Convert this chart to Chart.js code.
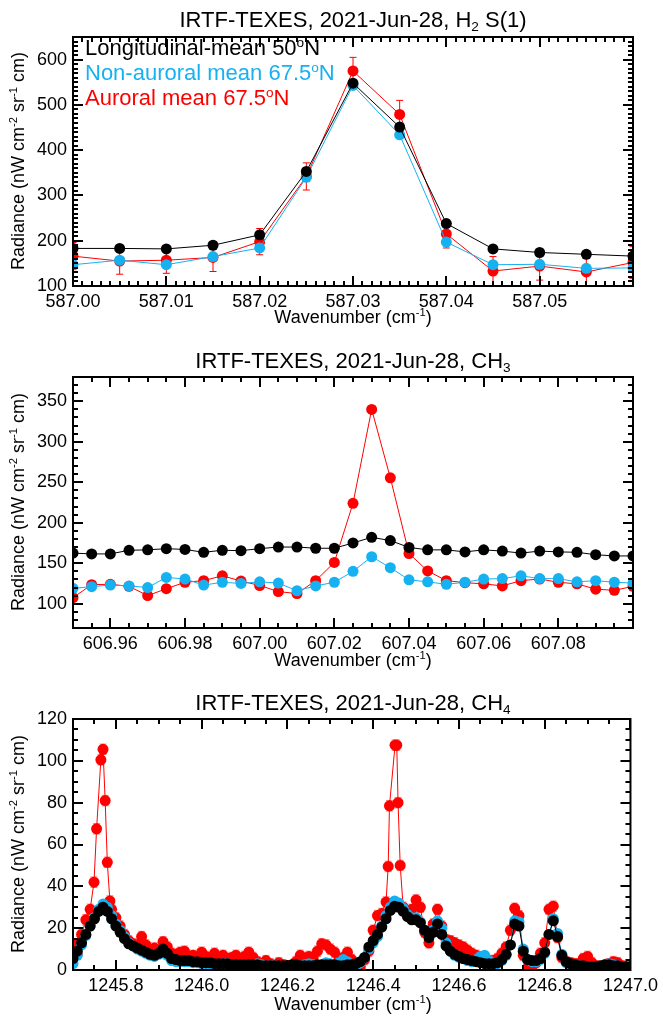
<!DOCTYPE html>
<html>
<head>
<meta charset="utf-8">
<title>IRTF-TEXES 2021-Jun-28 spectra</title>
<script src="https://cdn.jsdelivr.net/npm/chart.js@4.4.1/dist/chart.umd.min.js"></script>
<style>
  html, body { margin: 0; padding: 0; background: #fff; }
  body { width: 663px; height: 1019px; position: relative; overflow: hidden;
         font-family: "Liberation Sans", Arial, Helvetica, sans-serif; color: #000; }
  canvas { position: absolute; left: 0; }
  .title  { position: absolute; left: 353px; transform: translateX(-50%); font-size: 22px; line-height: 22px; white-space: nowrap; }
  .xlabel { position: absolute; left: 353px; transform: translateX(-50%); font-size: 18px; line-height: 18px; white-space: nowrap; }
  .ylabel { position: absolute; left: 18px; transform: translate(-50%, -50%) rotate(-90deg); font-size: 18px; line-height: 18px; white-space: nowrap; }
  .legend { position: absolute; left: 85px; font-size: 22px; line-height: 22px; white-space: nowrap; }
  sub { font-size: 0.62em; vertical-align: -0.3em; line-height: 0; }
  sup { font-size: 0.62em; vertical-align: 0.6em; line-height: 0; }
</style>
</head>
<body>

<canvas id="h2" width="663" height="330" style="top:0px"></canvas>
<canvas id="ch3" width="663" height="330" style="top:340px"></canvas>
<canvas id="ch4" width="663" height="337" style="top:682px"></canvas>

<div class="title" style="top:9px">IRTF-TEXES, 2021-Jun-28, H<sub>2</sub> S(1)</div>
<div class="title" style="top:350px">IRTF-TEXES, 2021-Jun-28, CH<sub>3</sub></div>
<div class="title" style="top:692px">IRTF-TEXES, 2021-Jun-28, CH<sub>4</sub></div>

<div class="legend" style="top:37px; color:#000">Longitudinal-mean 50<sup>o</sup>N</div>
<div class="legend" style="top:62px; color:#16b1f0">Non-auroral mean 67.5<sup>o</sup>N</div>
<div class="legend" style="top:87px; color:#ff0000">Auroral mean 67.5<sup>o</sup>N</div>

<div class="xlabel" style="top:308px">Wavenumber (cm<sup>-1</sup>)</div>
<div class="xlabel" style="top:651px">Wavenumber (cm<sup>-1</sup>)</div>
<div class="xlabel" style="top:995px">Wavenumber (cm<sup>-1</sup>)</div>

<div class="ylabel" style="top:161px">Radiance (nW cm<sup>-2</sup> sr<sup>-1</sup> cm)</div>
<div class="ylabel" style="top:502px">Radiance (nW cm<sup>-2</sup> sr<sup>-1</sup> cm)</div>
<div class="ylabel" style="top:844px">Radiance (nW cm<sup>-2</sup> sr<sup>-1</sup> cm)</div>

<script>
// ── H2 S(1) line ─────────────────────────────────────────────────────────────
const H2_WAVE = [587.000, 587.005, 587.010, 587.015, 587.020, 587.025, 587.030,
                 587.035, 587.040, 587.045, 587.050, 587.055, 587.060];
const H2_LON     = [183, 183, 182, 190, 213, 353, 548, 451, 238, 182, 174, 170, 166];
const H2_NONAUR  = [147, 157, 147, 165, 184, 340, 543, 434, 197, 147, 148, 139, 140];
const H2_AUR     = [166, 155, 157, 163, 198, 342, 575, 479, 215, 133, 144, 131, 152];
const H2_AUR_ERR = [30, 29, 29, 31, 29, 30, 30, 31, 31, 32, 31, 31, 35];
const H2_X_TICKS = [587.00, 587.01, 587.02, 587.03, 587.04, 587.05];
const H2_Y_TICKS = [100, 200, 300, 400, 500, 600];

// ── CH3 ──────────────────────────────────────────────────────────────────────
const CH3_WAVE = [606.950, 606.955, 606.960, 606.965, 606.970, 606.975, 606.980, 606.985,
                  606.990, 606.995, 607.000, 607.005, 607.010, 607.015, 607.020, 607.025,
                  607.030, 607.035, 607.040, 607.045, 607.050, 607.055, 607.060, 607.065,
                  607.070, 607.075, 607.080, 607.085, 607.090, 607.095, 607.100];
const CH3_LON = [162.5, 161.5, 161.5, 166, 166.5, 168, 167, 163.5, 166, 165.5, 168,
                 170, 170, 168.5, 168.5, 175, 182, 178, 169.5, 166.5, 166.5, 164,
                 166.5, 165, 162.5, 165, 164, 163.5, 160.5, 159, 159];
const CH3_NONAUR = [119, 121, 123, 122, 120, 132.5, 130.5, 123, 126.5, 125, 127,
                    125.5, 116, 122, 126.5, 140, 158, 144.5, 129.5, 127, 124, 126.5,
                    130.5, 131, 134.5, 131, 131, 127, 128.5, 126.5, 125.5];
const CH3_AUR = [107.5, 123.5, 124, 121.5, 110, 118.5, 126.5, 128.5, 134.5, 128, 122.5,
                 115, 112.5, 128.5, 151, 224, 340, 255.5, 162, 140.5, 128.5, 126,
                 124.5, 122, 128.5, 130.5, 126.5, 124.5, 118, 116.5, 121.5];
const CH3_AUR_ERR = 4.5;
const CH3_X_TICKS = [606.96, 606.98, 607.00, 607.02, 607.04, 607.06, 607.08];
const CH3_Y_TICKS = [100, 150, 200, 250, 300, 350];

// ── CH4 (sampled every 0.01 cm-1 from 1245.70) ───────────────────────────────
const CH4_START = 1245.70;
const CH4_STEP = 0.01;
const CH4_LON = [
  5.5, 9, 13, 17, 21, 24.5, 28, 30, 28, 24.5,
  21, 18, 15, 12.5, 11.5, 10.5, 9.5, 8.5, 7.5, 7,
  8, 10, 8, 5.5, 5, 4.5, 4.5, 4.5, 4, 4,
  3.5, 3.5, 3.5, 3, 3, 3, 3, 2.5, 2.5, 2.5,
  2.5, 2.5, 2.5, 2.5, 2, 2, 2, 2, 2, 2,
  2, 2.5, 2.5, 2, 2, 2, 2, 2.5, 2.5, 2.5,
  2.5, 2.5, 2, 2, 2.5, 2.5, 3, 4, 6, 11,
  14, 17, 20.5, 24.5, 28.5, 30.5, 30, 28, 25.5, 24,
  24, 22.5, 19, 15.5, 18, 22, 17, 11.5, 9, 7.5,
  6.5, 5.5, 5, 4.5, 4, 3.5, 3, 3, 3, 3.5,
  5, 7.5, 12, 22, 21, 9, 5, 4.5, 4.5, 5.5,
  8.5, 17, 23.5, 16, 7, 4, 3, 2.5, 2, 2,
  1.5, 1.5, 1.5, 2, 2.5, 2.5, 2, 2, 1.5, 1.5,
  1.5];
const CH4_NONAUR = [
  3, 7, 12, 16.5, 21, 25, 29, 31.5, 30, 26,
  22, 19, 16, 13, 11.5, 10, 9, 8, 7, 6.5,
  7.5, 9, 7, 4.5, 4, 4, 4, 4, 3.5, 3.5,
  3, 3, 2.5, 2.5, 2.5, 3, 3, 2, 2, 2.5,
  2.5, 2, 2, 3, 2.5, 1.5, 2, 2, 1.5, 1.5,
  1.5, 2, 2, 1.5, 2.5, 3, 2.5, 2, 2.5, 3.5,
  3, 2, 3.5, 5, 4, 2, 2, 3.5, 6, 10,
  13, 16, 21, 26, 30, 33, 32, 29.5, 26.5, 25,
  25, 23, 19, 16.5, 19, 23.5, 20, 13, 9, 7,
  6, 5.5, 4.5, 4, 5, 6.5, 7, 4.5, 3, 3,
  4.5, 7, 12, 23.5, 23, 10, 5, 4, 4, 5,
  8, 17, 24.5, 17.5, 7.5, 3.5, 2.5, 2, 2, 1.5,
  1.5, 1.5, 1, 1.5, 2.5, 3, 2.5, 2, 1.5, 1,
  1];
// null where the finer auroral samples below take over
const CH4_AUR = [
  12.5, 7.5, 17, 24, 29, null, null, null, null, 29,
  25, 21, 17, 14, 12.5, 12, 16, 12, 9.5, 10.5,
  9, 13.5, 11, 8, 7.5, 8.5, 9, 6.5, 7, 6,
  8.5, 6.5, 5.5, 8, 6, 7, 5, 6, 7, 5,
  6.5, 8.5, 6, 4, 3, 4.5, 3, 2, 3.5, 2.5,
  2, 1.5, 4, 7, 5, 6.5, 6, 9, 12.5, 12,
  10, 8.5, 5, 6, 8.5, 5, 3, 1.5, 5, 9,
  19, 26, 27, 32.5, null, null, null, 30, 28, 29,
  33.5, 30, 18, 13, 22, 29, 21, 14.5, 14, 13,
  12, 11, 9.5, 8, 7, 6, 5, 4.5, 4.5, 5.5,
  8, 11, 19, 29.5, 26, 7, 1, 1.5, 3.5, 8,
  13, 29, 30.5, 15.5, 6, 4, 3.5, 3, 3, 5.5,
  6.5, 3.5, 2, 1.5, 2, 3, 4, 3.5, 2, 1.5,
  1];
const CH4_AUR_FINE_X = [1245.749, 1245.755, 1245.765, 1245.770, 1245.775, 1245.780, 1245.786,
                        1246.435, 1246.438, 1246.451, 1246.455, 1246.458, 1246.463];
const CH4_AUR_FINE_Y = [42, 67.5, 100.5, 105.5, 81, 51.5, 33,
                        49.5, 78.5, 107.5, 107.5, 80, 50];
const CH4_AUR_ERR = 2.5;
const CH4_X_TICKS = [1245.8, 1246.0, 1246.2, 1246.4, 1246.6, 1246.8, 1247.0];
const CH4_Y_TICKS = [0, 20, 40, 60, 80, 100, 120];

// ── Styling ──────────────────────────────────────────────────────────────────
const INK = '#000000';
const SKY = '#16b1f0';
const RED = '#ff0000';
const FONT = '"Liberation Sans", Arial, Helvetica, sans-serif';
const DOT = 5.5;

const CH4_WAVE = CH4_LON.map((_, i) => +(CH4_START + i * CH4_STEP).toFixed(3));

function pairs(xs, ys) {
  return xs.map((x, i) => ({ x, y: ys[i] })).filter(p => p.y != null);
}

function stepValues(min, max, step) {
  const n = Math.round((max - min) / step);
  return Array.from({ length: n + 1 }, (_, i) => min + i * step);
}

function series(color, points, radius, errors, errColor) {
  return {
    data: points,
    borderColor: color,
    backgroundColor: color,
    borderWidth: 1,
    pointRadius: radius,
    pointBorderWidth: 0,
    pointBackgroundColor: color,
    pointHoverRadius: radius,
    tension: 0,
    clip: 0,
    errors: errors,
    errColor: errColor || color,
  };
}

// vertical error bars with caps, drawn just below each dataset's own markers
const errorBars = {
  id: 'errorBars',
  beforeDatasetDraw(chart, args) {
    const ds = chart.data.datasets[args.index];
    if (ds.errors == null) return;
    const { ctx, chartArea: a } = chart;
    const xs = chart.scales.x, ys = chart.scales.y;
    ctx.save();
    ctx.beginPath();
    ctx.rect(a.left, a.top, a.right - a.left, a.bottom - a.top);
    ctx.clip();
    ctx.strokeStyle = ds.errColor;
    ctx.lineWidth = 1;
    ctx.beginPath();
    ds.data.forEach((p, i) => {
      const e = Array.isArray(ds.errors) ? ds.errors[i] : ds.errors;
      const px = xs.getPixelForValue(p.x);
      const lo = ys.getPixelForValue(p.y - e), hi = ys.getPixelForValue(p.y + e);
      ctx.moveTo(px, lo); ctx.lineTo(px, hi);
      ctx.moveTo(px - 3.5, lo); ctx.lineTo(px + 3.5, lo);
      ctx.moveTo(px - 3.5, hi); ctx.lineTo(px + 3.5, hi);
    });
    ctx.stroke();
    ctx.restore();
  }
};

// box frame with inward ticks on all four sides
function framePlugin(cfg) {
  return {
    id: 'frame',
    afterDatasetsDraw(chart) {
      const { ctx, chartArea: a } = chart;
      const xs = chart.scales.x, ys = chart.scales.y;
      ctx.save();
      ctx.strokeStyle = INK;
      ctx.lineWidth = 2;
      ctx.beginPath();
      const xTick = (v, len) => {
        const px = Math.round(xs.getPixelForValue(v));
        ctx.moveTo(px, a.bottom); ctx.lineTo(px, a.bottom - len);
        ctx.moveTo(px, a.top); ctx.lineTo(px, a.top + len);
      };
      const yTick = (v, len) => {
        const py = Math.round(ys.getPixelForValue(v));
        ctx.moveTo(a.left, py); ctx.lineTo(a.left + len, py);
        ctx.moveTo(a.right, py); ctx.lineTo(a.right - len, py);
      };
      stepValues(cfg.xMin, cfg.xMax, cfg.xMinor).forEach(v => xTick(v, 5));
      stepValues(cfg.yMin, cfg.yMax, cfg.yMinor).forEach(v => yTick(v, 5));
      cfg.xTicks.forEach(v => xTick(v, 10));
      cfg.yTicks.forEach(v => yTick(v, 10));
      ctx.stroke();
      ctx.strokeRect(a.left, a.top, a.right - a.left, a.bottom - a.top);
      ctx.restore();
    }
  };
}

function buildPanel(id, cfg) {
  const tickFont = { family: FONT, size: 18 };
  return new Chart(document.getElementById(id), {
    type: 'line',
    data: { datasets: cfg.datasets },
    options: {
      responsive: false,
      animation: false,
      devicePixelRatio: 1,
      layout: { padding: { top: cfg.padTop, right: 30, left: 0, bottom: 0 } },
      plugins: { legend: { display: false }, tooltip: { enabled: false } },
      scales: {
        x: {
          type: 'linear', min: cfg.xMin, max: cfg.xMax,
          grid: { display: false, drawTicks: false },
          border: { display: false },
          ticks: { font: tickFont, color: INK, padding: 5, autoSkip: false, maxRotation: 0,
                   callback: v => v.toFixed(cfg.xDigits) },
          afterBuildTicks: s => { s.ticks = cfg.xTicks.map(v => ({ value: v })); },
          afterFit: s => { s.height = cfg.xAxisHeight; }
        },
        y: {
          type: 'linear', min: cfg.yMin, max: cfg.yMax,
          grid: { display: false, drawTicks: false },
          border: { display: false },
          ticks: { font: tickFont, color: INK, padding: 6, autoSkip: false,
                   callback: v => String(v) },
          afterBuildTicks: s => { s.ticks = cfg.yTicks.map(v => ({ value: v })); },
          afterFit: s => { s.width = 73; }
        }
      }
    },
    plugins: [errorBars, framePlugin(cfg)]
  });
}

// dataset order: black on top, then blue, red underneath
buildPanel('h2', {
  padTop: 37, xAxisHeight: 44,
  xMin: 587.00, xMax: 587.06, xMinor: 0.001, xTicks: H2_X_TICKS, xDigits: 2,
  yMin: 100, yMax: 650, yMinor: 10, yTicks: H2_Y_TICKS,
  datasets: [
    series(INK, pairs(H2_WAVE, H2_LON), DOT, 6),
    series(SKY, pairs(H2_WAVE, H2_NONAUR), DOT, 5),
    series(RED, pairs(H2_WAVE, H2_AUR), DOT, H2_AUR_ERR),
  ]
});

buildPanel('ch3', {
  padTop: 37, xAxisHeight: 42,
  xMin: 606.95, xMax: 607.10, xMinor: 0.005, xTicks: CH3_X_TICKS, xDigits: 2,
  yMin: 70, yMax: 380, yMinor: 10, yTicks: CH3_Y_TICKS,
  datasets: [
    series(INK, pairs(CH3_WAVE, CH3_LON), DOT, 2, 'rgba(0,0,0,0.5)'),
    series(SKY, pairs(CH3_WAVE, CH3_NONAUR), DOT, 2),
    series(RED, pairs(CH3_WAVE, CH3_AUR), DOT, CH3_AUR_ERR, 'rgba(255,0,0,0.55)'),
  ]
});

const ch4Aur = pairs(CH4_WAVE, CH4_AUR)
  .concat(pairs(CH4_AUR_FINE_X, CH4_AUR_FINE_Y))
  .sort((p, q) => p.x - q.x);

buildPanel('ch4', {
  padTop: 37, xAxisHeight: 49,
  xMin: 1245.7, xMax: 1247.0, xMinor: 0.05, xTicks: CH4_X_TICKS, xDigits: 1,
  yMin: 0, yMax: 120, yMinor: 5, yTicks: CH4_Y_TICKS,
  datasets: [
    series(INK, pairs(CH4_WAVE, CH4_LON), DOT),
    series(SKY, pairs(CH4_WAVE, CH4_NONAUR), DOT),
    series(RED, ch4Aur, DOT, CH4_AUR_ERR, 'rgba(255,0,0,0.5)'),
  ]
});
</script>
</body>
</html>
